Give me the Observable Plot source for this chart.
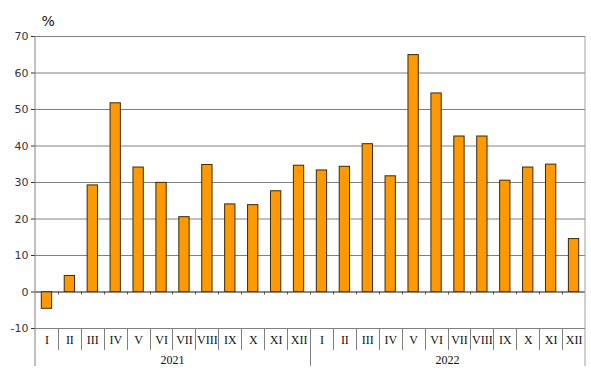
<!DOCTYPE html>
<html>
<head>
<meta charset="utf-8">
<script src="https://cdn.jsdelivr.net/npm/d3@7"></script>
<script src="https://cdn.jsdelivr.net/npm/@observablehq/plot@0.6"></script>
<style>
  html, body { margin: 0; padding: 0; background: #fff; }
  #chart svg { display: block; }
</style>
</head>
<body>
<div id="chart"></div>
<script>
const months = ["I","II","III","IV","V","VI","VII","VIII","IX","X","XI","XII"];
const years = ["2021","2022"];
const values2021 = [-4.6, 4.4, 29.2, 51.7, 34.1, 29.9, 20.5, 34.8, 24.0, 23.8, 27.6, 34.6];
const values2022 = [33.3, 34.3, 40.5, 31.7, 64.9, 54.4, 42.6, 42.6, 30.5, 34.1, 34.9, 14.5];
const yTicks = [-10, 0, 10, 20, 30, 40, 50, 60, 70];
const unitLabel = "%";

const seriesByYear = [values2021, values2022];
const data = years.flatMap((yr, yi) => months.map((m, mi) => ({
  key: yr + "-" + m, year: yr, month: m, value: seriesByYear[yi][mi]
})));
const keys = data.map(d => d.key);

const lineColor = "#808080";

function lowerTable(index, scales, values, dims) {
  const x = scales.x, y = scales.y;
  const bw = x.bandwidth();
  const step = x.step ? x.step() : bw / (1 - 0.55);
  const gap = (step - bw) / 2;
  const yBottom = y(-10);
  const yZero = y(0);
  const yTop = y(70);
  const monthBottom = yBottom + 22;
  const yearBottom = dims.height - 7;
  const g = d3.create("svg:g").attr("fill", "none");
  const xl = dims.marginLeft, xr = dims.width - dims.marginRight;
  g.append("line").attr("x1", xl).attr("x2", xl).attr("y1", yTop).attr("y2", yearBottom).attr("stroke", "#808080");
  g.append("line").attr("x1", xr).attr("x2", xr).attr("y1", yTop).attr("y2", yearBottom).attr("stroke", "#a0a0a0");
  keys.forEach((k, i) => {
    if (i === 0) return;
    const bx = Math.round(x(k) - gap) + 0.5;
    const isYear = data[i].month === "I";
    g.append("line").attr("x1", bx).attr("x2", bx)
      .attr("y1", yBottom).attr("y2", isYear ? yearBottom : monthBottom)
      .attr("stroke", lineColor);
    g.append("line").attr("x1", bx).attr("x2", bx)
      .attr("y1", yZero).attr("y2", yZero + 3)
      .attr("stroke", "#555");
  });
  years.forEach(yr => {
    const ks = keys.filter((k, i) => data[i].year === yr);
    const cx = (x(ks[0]) - gap + x(ks[ks.length - 1]) + bw + gap) / 2;
    g.append("text").attr("x", cx).attr("y", yBottom + 36)
      .attr("text-anchor", "middle").attr("fill", "#111")
      .attr("font-family", "Liberation Serif, serif").attr("font-size", 12)
      .text(yr);
  });
  return g.node();
}

const chart = Plot.plot({
  width: 591,
  height: 373,
  marginLeft: 35,
  marginRight: 6,
  marginTop: 36,
  marginBottom: 45,
  style: { background: "#fff", fontFamily: "DejaVu Sans, sans-serif", fontSize: "11px", color: "#333" },
  x: { domain: keys, paddingInner: 0.55, paddingOuter: 0.275, round: false, axis: null },
  y: { domain: [-10, 70], ticks: yTicks, tickSize: 4, tickPadding: 3, label: null, tickFormat: d => String(d) },
  marks: [
    Plot.gridY(yTicks, { stroke: lineColor, strokeOpacity: 1 }),
    Plot.barY(data, { x: "key", y: "value", fill: "#FF9900", stroke: "#3b2a0e", strokeWidth: 1 }),
    Plot.ruleY([0], { stroke: "#555" }),
    Plot.text(data, { x: "key", y: -10, text: "month", dy: 12, fill: "#111", fontFamily: "Liberation Serif, serif", fontSize: 12 }),
    lowerTable,
    Plot.text([unitLabel], { frameAnchor: "top-left", dx: 6, dy: -20, fill: "#111", fontSize: 14, fontFamily: "DejaVu Sans, sans-serif" })
  ]
});
document.getElementById("chart").append(chart);
</script>
</body>
</html>
